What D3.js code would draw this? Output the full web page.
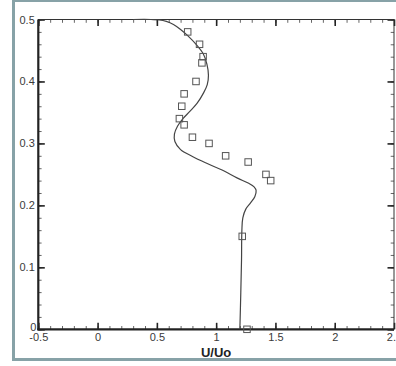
<!DOCTYPE html>
<html>
<head>
<meta charset="utf-8">
<script src="https://cdn.jsdelivr.net/npm/d3@7"></script>
<style>
html,body{margin:0;padding:0;background:#fff;}
svg{display:block;}
text{font-family:"Liberation Sans",Arial,Helvetica,sans-serif;}
</style>
</head>
<body>
<div id="chart"></div>
<script>
// ---- data ----
const curveU = [0.30,0.45,0.52,0.58,0.64,0.70,0.76,0.835,0.89,0.922,0.935,0.925,0.895,0.84,0.78,0.72,0.675,0.648,0.652,0.70,0.80,0.92,1.05,1.18,1.27,1.32,1.337,1.326,1.29,1.25,1.225,1.217,1.214,1.208,1.20];
const curveV = [0.5,0.5,0.4995,0.497,0.492,0.484,0.474,0.459,0.445,0.428,0.41,0.395,0.382,0.365,0.352,0.34,0.328,0.315,0.303,0.29,0.279,0.268,0.257,0.244,0.236,0.23,0.224,0.214,0.204,0.194,0.18,0.16,0.112,0.06,0];
const markerU = [0.76,0.86,0.89,0.88,0.83,0.73,0.71,0.69,0.73,0.80,0.94,1.08,1.27,1.42,1.46,1.22,1.26];
const markerV = [0.48,0.46,0.44,0.43,0.40,0.38,0.36,0.34,0.33,0.31,0.30,0.28,0.27,0.25,0.24,0.15,0.0];
const xTickVals = [-0.5,0,0.5,1,1.5,2,2.5];
const xTickLabels = ["-0.5","0","0.5","1","1.5","2","2.5"];
const yTickVals = [0,0.1,0.2,0.3,0.4,0.5];
const yTickLabels = ["0","0.1","0.2","0.3","0.4","0.5"];
const xLabel = "U/Uo";

// ---- layout ----
const W = 396, H = 366;
const svg = d3.select("#chart").append("svg").attr("width", W).attr("height", H);

// outer frame
svg.append("rect").attr("x", 13.5).attr("y", 0.5).attr("width", 390).attr("height", 359)
  .attr("fill", "#fff").attr("stroke", "#87a2a7").attr("stroke-width", 3);

const x = d3.scaleLinear().domain([-0.5, 2.5]).range([38.3, 394]);
const y = d3.scaleLinear().domain([0, 0.5]).range([329.3, 19.5]);

const g = svg.append("g");
const minorX = d3.range(-0.5, 2.5001, 0.1).map(v => +v.toFixed(2));
const minorY = d3.range(0, 0.5001, 0.02).map(v => +v.toFixed(3));

const axB = d3.axisBottom(x).tickValues(xTickVals).tickSize(-6.5).tickFormat((d,i) => xTickLabels[i]).tickPadding(3.5);
const axBm = d3.axisBottom(x).tickValues(minorX).tickSize(-3.3).tickFormat("");
const axT = d3.axisTop(x).tickValues(xTickVals).tickSize(-6.5).tickFormat("");
const axTm = d3.axisTop(x).tickValues(minorX).tickSize(-3.3).tickFormat("");
const axL = d3.axisLeft(y).tickValues(yTickVals).tickSize(-6.5).tickFormat((d,i) => yTickLabels[i]).tickPadding(3.5);
const axLm = d3.axisLeft(y).tickValues(minorY).tickSize(-3.3).tickFormat("");
const axR = d3.axisRight(y).tickValues(yTickVals).tickSize(-6.5).tickFormat("");
const axRm = d3.axisRight(y).tickValues(minorY).tickSize(-3.3).tickFormat("");

function style(sel, col, w) {
  sel.selectAll(".domain").remove();
  sel.selectAll("line").attr("stroke", col).attr("stroke-width", w);
  sel.selectAll("text").attr("fill", "#3a3a3a").style("font-size", "11px");
}
style(g.append("g").attr("transform", `translate(0,${y(0)})`).call(axBm), "#666", 1);
style(g.append("g").attr("transform", `translate(0,${y(0.5)})`).call(axTm), "#666", 1);
style(g.append("g").attr("transform", `translate(${x(-0.5)},0)`).call(axLm), "#666", 1);
style(g.append("g").attr("transform", `translate(${x(2.5)},0)`).call(axRm), "#666", 1);
style(g.append("g").attr("transform", `translate(0,${y(0.5)})`).call(axT), "#222", 1.6);
style(g.append("g").attr("transform", `translate(${x(2.5)},0)`).call(axR), "#222", 1.6);
const gb = g.append("g").attr("transform", `translate(0,${y(0)})`).call(axB);
style(gb, "#222", 1.6);
const gl = g.append("g").attr("transform", `translate(${x(-0.5)},0)`).call(axL);
style(gl, "#222", 1.6);
gl.selectAll(".tick").filter(d => d === 0).select("text").attr("dy", "0.15em").attr("x", -2);

// frame lines
g.append("line").attr("x1", x(-0.5)).attr("x2", x(2.5)).attr("y1", y(0.5)).attr("y2", y(0.5)).attr("stroke", "#333").attr("stroke-width", 1);
g.append("line").attr("x1", x(2.5)).attr("x2", x(2.5)).attr("y1", y(0.5)).attr("y2", y(0)).attr("stroke", "#333").attr("stroke-width", 1);
g.append("line").attr("x1", x(-0.5)).attr("x2", x(-0.5)).attr("y1", y(0.5)).attr("y2", y(0)+1).attr("stroke", "#222").attr("stroke-width", 2.2);
g.append("line").attr("x1", x(-0.5)-1).attr("x2", x(2.5)).attr("y1", y(0)).attr("y2", y(0)).attr("stroke", "#222").attr("stroke-width", 2.2);

// x-axis title
svg.append("text").attr("x", x(1)).attr("y", 356.5).attr("text-anchor", "middle")
  .attr("fill", "#222").style("font-size", "13px").style("font-weight", "bold").text(xLabel);

// curve
const pts = curveU.map((u, i) => [u, curveV[i]]);
const line = d3.line().x(d => x(d[0])).y(d => y(d[1])).curve(d3.curveCatmullRom.alpha(0.5));
svg.append("path").attr("d", line(pts)).attr("fill", "none").attr("stroke", "#444").attr("stroke-width", 1.2);

// markers
const s = 6.5;
svg.append("g").selectAll("rect").data(markerU.map((u, i) => [u, markerV[i]])).join("rect")
  .attr("x", d => x(d[0]) - s/2).attr("y", d => y(d[1]) - s/2)
  .attr("width", s).attr("height", s)
  .attr("fill", "none").attr("stroke", "#555").attr("stroke-width", 1);
</script>
</body>
</html>
